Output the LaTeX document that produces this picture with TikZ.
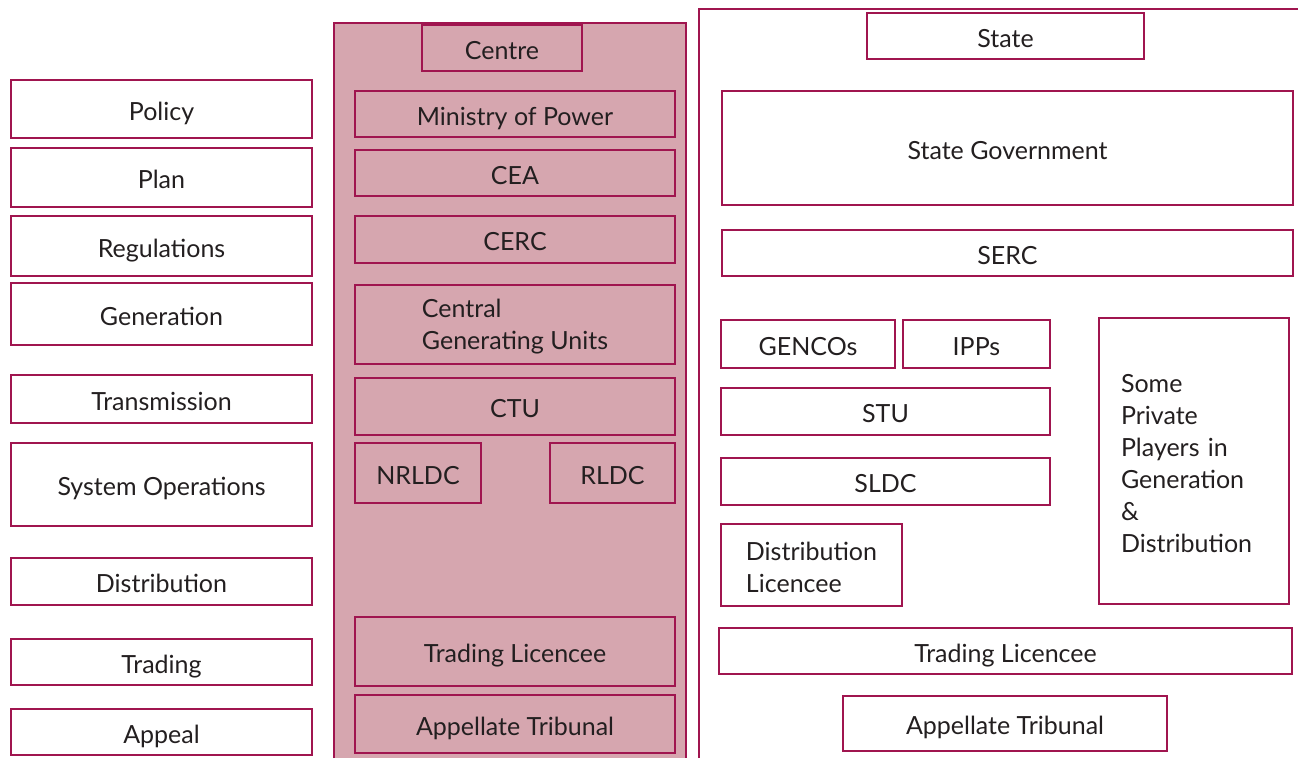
\documentclass[tikz,border=0pt]{standalone}
\usepackage{fontspec}
\setmainfont{Lato}
\definecolor{edge}{HTML}{A0154F}
\definecolor{panel}{HTML}{D6A6AF}
\definecolor{ink}{HTML}{231F20}
\begin{document}
\begin{tikzpicture}[x=1pt,y=-1pt,
  box/.style={draw=edge,line width=1.4pt,rectangle,inner sep=0pt,text=ink,
    font=\fontsize{25}{32}\selectfont,align=center,text height=22pt,text depth=0pt},
  pbox/.style={box,fill=panel},
  txt/.style={inner sep=0pt,text=ink,font=\fontsize{25}{32}\selectfont,align=left},
  frame/.style={draw=edge,line width=1.4pt}]
\useasboundingbox (0,0) rectangle (1298,758);
% left column
\node[box,minimum width=301pt,minimum height=58pt] (policy) at (161.5,109) {Policy};
\node[box,minimum width=301pt,minimum height=59pt] (plan) at (161.5,177.5) {Plan};
\node[box,minimum width=301pt,minimum height=60pt] (regs) at (161.5,246) {Regulations};
\node[box,minimum width=301pt,minimum height=62pt] (gen) at (161.5,314) {Generation};
\node[box,minimum width=301pt,minimum height=48pt] (trans) at (161.5,399) {Transmission};
\node[box,minimum width=301pt,minimum height=83pt] (sysop) at (161.5,484.5) {System Operations};
\node[box,minimum width=301pt,minimum height=47pt] (dist) at (161.5,581.5) {Distribution};
\node[box,minimum width=301pt,minimum height=46pt] (trading) at (161.5,662) {Trading};
\node[box,minimum width=301pt,minimum height=46pt] (appeal) at (161.5,732) {Appeal};
% centre panel
\fill[panel] (334,23) rectangle (686,758);
\draw[frame] (334,758) -- (334,23) -- (686,23) -- (686,758);
\node[pbox,minimum width=160pt,minimum height=46pt] (centre) at (502,48) {Centre};
\node[pbox,minimum width=320pt,minimum height=46pt] (mop) at (515,114) {Ministry of Power};
\node[pbox,minimum width=320pt,minimum height=46pt] (cea) at (515,173) {CEA};
\node[pbox,minimum width=320pt,minimum height=47pt] (cerc) at (515,239.5) {CERC};
\node[pbox,minimum width=320pt,minimum height=79pt] (cgu) at (515,324.5) {};
\node[txt] (cgut) at ([yshift=-2.5pt]cgu.center) {Central\\Generating Units};
\node[pbox,minimum width=320pt,minimum height=57pt] (ctu) at (515,406.5) {CTU};
\node[pbox,minimum width=126pt,minimum height=60pt] (nrldc) at (418,473) {NRLDC};
\node[pbox,minimum width=125pt,minimum height=60pt] (rldc) at (612.5,473) {RLDC};
\node[pbox,minimum width=320pt,minimum height=69pt] (ctl) at (515,651.5) {Trading Licencee};
\node[pbox,minimum width=320pt,minimum height=58pt] (cat) at (515,724) {Appellate Tribunal};
% state panel
\draw[frame] (699,758) -- (699,9) -- (1298,9);
\node[box,minimum width=277pt,minimum height=46pt] (state) at (1005.5,36) {State};
\node[box,minimum width=571pt,minimum height=114pt] (sg) at (1007.5,148) {State Government};
\node[box,minimum width=571pt,minimum height=46pt] (serc) at (1007.5,253) {SERC};
\node[box,minimum width=174pt,minimum height=48pt] (gencos) at (808,344) {GENCOs};
\node[box,minimum width=147pt,minimum height=48pt] (ipps) at (976.5,344) {IPPs};
\node[box,minimum width=329pt,minimum height=47pt] (stu) at (885.5,411.5) {STU};
\node[box,minimum width=329pt,minimum height=47pt] (sldc) at (885.5,481.5) {SLDC};
\node[box,minimum width=181pt,minimum height=82pt] (dl) at (811.5,565) {};
\node[txt] (dlt) at ([yshift=-2pt]dl.center) {Distribution\\Licencee};
\node[box,minimum width=190pt,minimum height=286pt] (spp) at (1194,461) {};
\node[txt,text width=146pt] (sppt) at ([yshift=-2.5pt]spp.center) {Some\\Private\\Players in\\Generation\\\&\\Distribution};
\node[box,minimum width=573pt,minimum height=46pt] (stl) at (1005.5,651) {Trading Licencee};
\node[box,minimum width=324pt,minimum height=55pt] (sat) at (1005,723.5) {Appellate Tribunal};
\end{tikzpicture}
\end{document}
